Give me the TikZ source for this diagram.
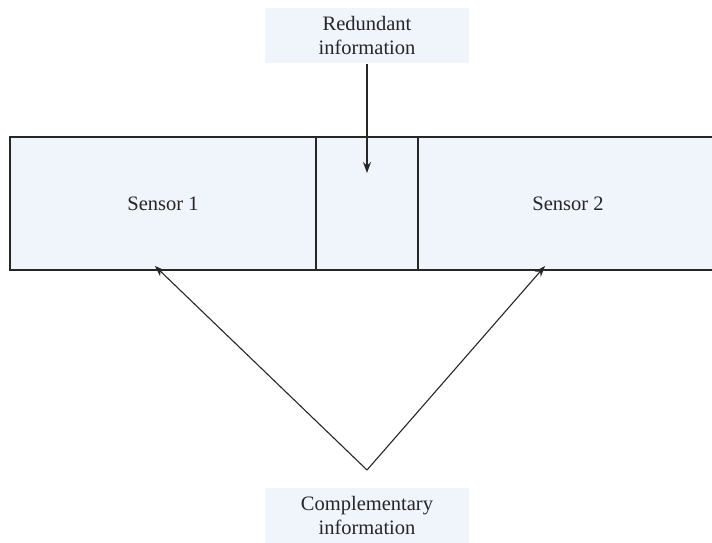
\documentclass[tikz,border=0pt]{standalone}
\usepackage{fontspec}
\setmainfont{Liberation Serif}
\usetikzlibrary{arrows.meta}
\definecolor{boxfill}{HTML}{F0F4FB}

\begin{document}
\begin{tikzpicture}[x=1pt, y=-1pt, line width=1.1pt,
    every node/.style={font=\fontsize{20.5}{24}\selectfont, text=black!85},
    sensorbox/.style={rectangle, draw=black!85, fill=boxfill, minimum height=133pt, inner sep=0pt},
    labelbox/.style={rectangle, fill=boxfill, minimum width=204pt, minimum height=55pt, align=center, inner sep=0pt},
    arrow/.style={-{Stealth[length=11pt, width=8pt]}, draw=black!85}]
    \useasboundingbox (0,0) rectangle (712,543);

    \node[sensorbox, minimum width=306pt] (s1) at (163, 203.5) {Sensor 1};
    \node[sensorbox, minimum width=102pt] (mid) at (367, 203.5) {};
    \node[sensorbox, minimum width=300pt] (s2) at (568, 203.5) {Sensor 2};

    \node[labelbox] (red) at (367, 35.5) {Redundant\\information};
    \node[labelbox] (comp) at (367, 515.5) {Complementary\\information};

    \coordinate (apex) at (367, 470);
    \coordinate (t1) at (155, 266);
    \coordinate (t2) at (545, 266);
    \coordinate (tm) at (367, 173);

    \draw[arrow] (red) to (tm);
    \draw[arrow] (apex) to (t1);
    \draw[arrow] (apex) to (t2);
\end{tikzpicture}
\end{document}
